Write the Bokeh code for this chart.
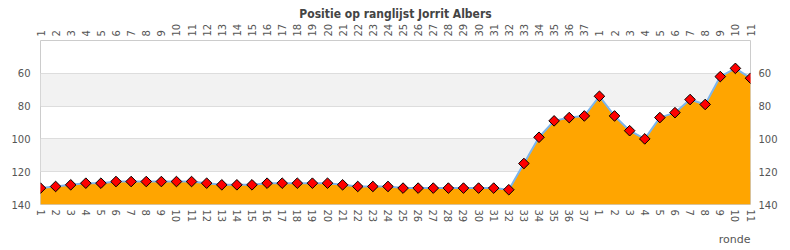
import math
from bokeh.plotting import figure
from bokeh.models import Range1d, FixedTicker, LinearAxis, Title, ColumnDataSource
from bokeh.embed import file_html
from bokeh.resources import INLINE

# data
season1_positions = [130, 129, 128, 127, 127, 126, 126, 126, 126, 126, 126, 127,
                     128, 128, 128, 127, 127, 127, 127, 127, 128, 129, 129, 129,
                     130, 130, 130, 130, 130, 130, 130, 131, 115, 99, 89, 87, 86]
season2_positions = [74, 86, 95, 100, 87, 84, 76, 79, 62, 57, 63]
round_labels = [str(i) for i in range(1, 38)] + [str(i) for i in range(1, 12)]
y_ticks = [60, 80, 100, 120, 140]

positions = season1_positions + season2_positions
xs = list(range(len(positions)))
src = ColumnDataSource(dict(x=xs, y=positions, base=[140] * len(xs)))

p = figure(width=790, height=250, output_backend="svg", toolbar_location=None,
           x_range=Range1d(0, len(xs) - 1), y_range=Range1d(140, 40),
           x_axis_location="below", y_axis_location="left",
           min_border_left=40, min_border_right=40, min_border_top=40,
           min_border_bottom=45)

p.title.text = "Positie op ranglijst Jorrit Albers"
p.title.align = "center"
p.title.text_font = "DejaVu Sans Condensed"
p.title.text_font_size = "12px"
p.title.text_font_style = "bold"
p.title.text_color = "#444444"
p.title.standoff = 0

p.outline_line_color = "#cccccc"
p.background_fill_color = "white"
p.border_fill_color = "white"

p.xgrid.visible = False
p.ygrid.ticker = FixedTicker(ticks=[40] + y_ticks)
p.ygrid.grid_line_color = "#dddddd"
p.ygrid.band_fill_color = "#f2f2f2"
p.ygrid.band_fill_alpha = 1.0

p.varea(x="x", y1="y", y2="base", source=src, fill_color="#FFA500")
p.line(x="x", y="y", source=src, line_color="#7cb5ec", line_width=2)
p.scatter(x="x", y="y", source=src, marker="square", angle=math.pi / 4, size=7.5,
          fill_color="#ff0000", line_color="black", line_width=1)

overrides = {i: lab for i, lab in enumerate(round_labels)}

def style_axis(ax):
    ax.axis_line_color = None
    ax.major_tick_line_color = None
    ax.minor_tick_line_color = None
    ax.major_tick_out = 0
    ax.major_tick_in = 0
    ax.major_label_text_font = "DejaVu Sans"
    ax.major_label_text_font_size = "10px"
    ax.major_label_text_color = "#555555"

xb = p.xaxis[0]
xb.ticker = FixedTicker(ticks=xs)
xb.major_label_overrides = overrides
xb.major_label_orientation = "vertical"
xb.major_label_standoff = 5
style_axis(xb)

xt = LinearAxis(ticker=FixedTicker(ticks=xs), major_label_overrides=overrides,
                major_label_orientation="vertical", major_label_standoff=4)
style_axis(xt)
p.add_layout(xt, "above")

yl = p.yaxis[0]
yl.ticker = FixedTicker(ticks=y_ticks)
yl.major_label_standoff = 10
style_axis(yl)

yr = LinearAxis(ticker=FixedTicker(ticks=y_ticks), major_label_standoff=8)
style_axis(yr)
p.add_layout(yr, "right")

p.add_layout(Title(text="ronde", align="right", text_font="DejaVu Sans",
                   text_font_size="11px", text_font_style="normal",
                   text_color="#555555"), "below")

open("out.html", "w").write(file_html(p, INLINE))
